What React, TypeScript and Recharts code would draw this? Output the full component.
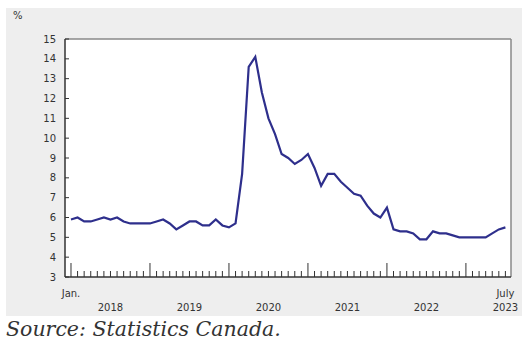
import React from "react";
import {
  CartesianGrid,
  Line,
  LineChart,
  ReferenceLine,
  XAxis,
  YAxis,
} from "recharts";

// monthly unemployment rate, %, Jan 2018 - Jul 2023
const rate2018 = [5.9, 6.0, 5.8, 5.8, 5.9, 6.0, 5.9, 6.0, 5.8, 5.7, 5.7, 5.7];
const rate2019 = [5.7, 5.8, 5.9, 5.7, 5.4, 5.6, 5.8, 5.8, 5.6, 5.6, 5.9, 5.6];
const rate2020 = [5.5, 5.7, 8.2, 13.6, 14.1, 12.3, 11.0, 10.2, 9.2, 9.0, 8.7, 8.9];
const rate2021 = [9.2, 8.5, 7.6, 8.2, 8.2, 7.8, 7.5, 7.2, 7.1, 6.6, 6.2, 6.0];
const rate2022 = [6.5, 5.4, 5.3, 5.3, 5.2, 4.9, 4.9, 5.3, 5.2, 5.2, 5.1, 5.0];
const rate2023 = [5.0, 5.0, 5.0, 5.0, 5.2, 5.4, 5.5];

const years = ["2018", "2019", "2020", "2021", "2022", "2023"];
const yTicks = [3, 4, 5, 6, 7, 8, 9, 10, 11, 12, 13, 14, 15];

const rates = [
  ...rate2018,
  ...rate2019,
  ...rate2020,
  ...rate2021,
  ...rate2022,
  ...rate2023,
];
const data = rates.map((rate, i) => ({ i, rate }));
const lastIdx = rates.length - 1;
const xTicks = rates.map((_, i) => i);

const font = "'DejaVu Sans', sans-serif";
const ink = "#333";

function XTick(props: any) {
  const { x, y, payload } = props;
  const i = payload.value as number;
  const major = i % 12 === 0;
  const yr = Math.floor(i / 12);
  return (
    <g>
      <line x1={x} x2={x} y1={y} y2={y - (major ? 14 : 6)} stroke={ink} strokeWidth={1} />
      {i === 0 && (
        <text x={x} y={y + 20} textAnchor="middle" fontSize={10} fontFamily={font} fill={ink}>
          Jan.
        </text>
      )}
      {i % 12 === 6 && i !== lastIdx && (
        <text x={x} y={y + 34} textAnchor="middle" fontSize={10} fontFamily={font} fill={ink}>
          {years[yr]}
        </text>
      )}
      {i === lastIdx && (
        <g>
          <text x={x} y={y + 20} textAnchor="middle" fontSize={10} fontFamily={font} fill={ink}>
            July
          </text>
          <text x={x} y={y + 34} textAnchor="middle" fontSize={10} fontFamily={font} fill={ink}>
            {years[yr]}
          </text>
        </g>
      )}
    </g>
  );
}

function YTick(props: any) {
  const { x, y, payload } = props;
  return (
    <g>
      <line x1={x} x2={x + 4} y1={y} y2={y} stroke={ink} strokeWidth={1} />
      <text x={x - 9} y={y + 3.5} textAnchor="end" fontSize={10} fontFamily={font} fill={ink}>
        {payload.value}
      </text>
    </g>
  );
}

export default function App() {
  return (
    <div style={{ position: "absolute", left: 0, top: 0, width: 529, height: 351, background: "#fff" }}>
      <div
        style={{
          position: "absolute",
          left: 6,
          top: 8,
          width: 516,
          height: 308,
          background: "#eeeeee",
        }}
      />
      <div
        style={{
          position: "absolute",
          left: 13,
          top: 10,
          fontSize: 10,
          fontFamily: font,
          color: ink,
        }}
      >
        %
      </div>
      <div style={{ position: "absolute", left: 0, top: 0 }}>
        <LineChart
          width={529}
          height={351}
          data={data}
          margin={{ top: 39, right: 18, left: 0, bottom: 44 }}
        >
          <CartesianGrid horizontal={false} vertical={false} fill="#fff" />
          <XAxis
            type="number"
            dataKey="i"
            domain={[-0.91, 66.85]}
            allowDataOverflow
            ticks={xTicks}
            interval={0}
            height={30}
            tickSize={0}
            tickMargin={0}
            tick={<XTick />}
            axisLine={{ stroke: ink, strokeWidth: 1.5 }}
          />
          <YAxis
            domain={[3, 15]}
            ticks={yTicks}
            interval={0}
            width={65}
            tickSize={0}
            tickMargin={0}
            tick={<YTick />}
            axisLine={{ stroke: ink, strokeWidth: 1.5 }}
          />
          <ReferenceLine y={15} stroke="#888" strokeWidth={1.5} />
          <ReferenceLine x={66.85} stroke="#888" strokeWidth={1.5} />
          <Line
            type="linear"
            dataKey="rate"
            stroke="#2e2f8c"
            strokeWidth={2.2}
            dot={false}
            isAnimationActive={false}
          />
        </LineChart>
      </div>
      <div
        style={{
          position: "absolute",
          left: 6,
          top: 317,
          fontSize: 20.5,
          fontStyle: "italic",
          fontFamily: "'DejaVu Serif', serif",
          color: ink,
          whiteSpace: "nowrap",
        }}
      >
        Source: Statistics Canada.
      </div>
    </div>
  );
}
